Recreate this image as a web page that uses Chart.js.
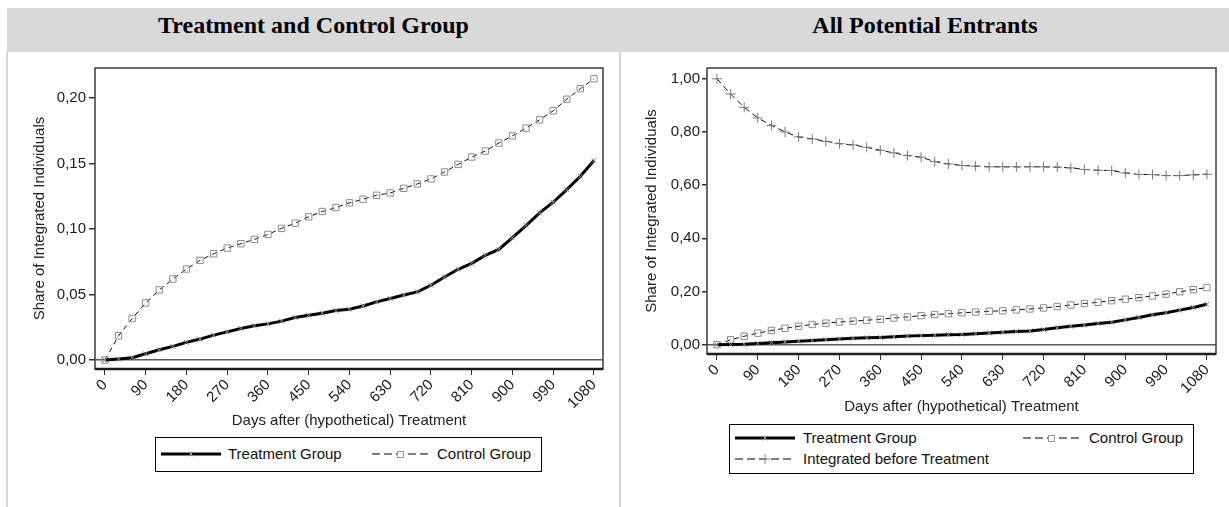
<!DOCTYPE html>
<html><head><meta charset="utf-8">
<script src="https://cdn.jsdelivr.net/npm/chart.js@4"></script>
<style>
body{margin:0;width:1229px;height:507px;background:#fff;position:relative;overflow:hidden;font-family:'Liberation Sans',Arial,sans-serif;}
#band{position:absolute;left:7px;top:8px;width:1222px;height:44px;background:#d9d9d9;}
.ttl{position:absolute;top:12px;height:32px;line-height:32px;font:bold 24px 'Liberation Serif','Times New Roman',serif;color:#000;text-align:center;}
.vl{position:absolute;background:#d4d4d4;width:2px;}
canvas{position:absolute;}
.leg{position:absolute;border:1px solid #000;background:#fff;box-sizing:border-box;}
.item{position:absolute;font-size:15px;color:#111;white-space:nowrap;line-height:18px;}
.item svg{position:absolute;}
</style>
</head><body>
<div id="band"></div>
<div class="ttl" id="t1" style="left:7px;width:613px;"></div>
<div class="ttl" id="t2" style="left:621px;width:608px;"></div>
<div class="vl" style="left:6px;top:52px;height:455px;"></div>
<div class="vl" style="left:619px;top:52px;height:455px;"></div>
<canvas id="c1" width="612" height="378" style="left:8px;top:52px;"></canvas>
<canvas id="c2" width="608" height="364" style="left:621px;top:52px;"></canvas>
<div class="leg" id="leg1" style="left:155px;top:437px;width:387px;height:35px;"></div>
<div class="leg" id="leg2" style="left:729px;top:424px;width:465px;height:50px;"></div>
<script>
const panelTitles = ['Treatment and Control Group', 'All Potential Entrants'];
const seriesNames = ['Treatment Group', 'Control Group', 'Integrated before Treatment'];
const xTitle = 'Days after (hypothetical) Treatment';
const yTitle = 'Share of Integrated Individuals';

const days = [0,30,60,90,120,150,180,210,240,270,300,330,360,390,420,450,480,510,540,570,600,630,660,690,720,750,780,810,840,870,900,930,960,990,1020,1050,1080];
const treatment = [0,0.0008,0.0018,0.0048,0.0078,0.0104,0.0135,0.0160,0.0190,0.0215,0.0241,0.0261,0.0276,0.0297,0.0325,0.0342,0.0358,0.0378,0.0388,0.0413,0.0444,0.0470,0.0497,0.0520,0.0571,0.0634,0.0693,0.0738,0.0799,0.0845,0.0934,0.1027,0.1124,0.1205,0.1301,0.1403,0.1524];
const control = [0,0.0185,0.0317,0.0436,0.0535,0.0619,0.0695,0.0761,0.0812,0.0855,0.0888,0.0921,0.0959,0.1005,0.1045,0.1094,0.1134,0.1164,0.1200,0.1228,0.1258,0.1276,0.1311,0.1345,0.1383,0.1436,0.1494,0.1550,0.1596,0.1657,0.1712,0.1771,0.1834,0.1903,0.1992,0.2072,0.2148];
const integrated = [1.00,0.9426,0.8925,0.8526,0.825,0.80,0.7814,0.7739,0.765,0.756,0.7514,0.7424,0.7311,0.7214,0.7113,0.705,0.6888,0.680,0.674,0.6714,0.669,0.669,0.669,0.669,0.669,0.6677,0.665,0.659,0.656,0.655,0.646,0.640,0.640,0.636,0.636,0.6386,0.641];

const xTicks = [0,90,180,270,360,450,540,630,720,810,900,990,1080];
const xTickLabels = ['0','90','180','270','360','450','540','630','720','810','900','990','1080'];
const leftYTicks = [0,0.05,0.10,0.15,0.20];
const leftYLabels = ['0,00','0,05','0,10','0,15','0,20'];
const rightYTicks = [0,0.2,0.4,0.6,0.8,1.0];
const rightYLabels = ['0,00','0,20','0,40','0,60','0,80','1,00'];

document.getElementById('t1').textContent = panelTitles[0];
document.getElementById('t2').textContent = panelTitles[1];

Chart.defaults.font.family = "'Liberation Sans', Arial, sans-serif";
Chart.defaults.font.size = 15;
const tickColor = '#1a1a22';
const titleColor = '#222';

const pts = arr => days.map((d, i) => ({x: d, y: arr[i]}));

function dsTreatment(){ return {label: seriesNames[0], data: pts(treatment), borderColor:'#000', borderWidth:3, pointStyle:'crossRot', pointRadius:3.5, pointBorderColor:'#8c8c8c', pointBackgroundColor:'rgba(0,0,0,0)', pointBorderWidth:1, tension:0}; }
function dsControl(){ return {label: seriesNames[1], data: pts(control), borderColor:'#111', borderWidth:1, borderDash:[5,4], pointStyle:'rect', pointRadius:4.5, pointBorderColor:'#8c8c8c', pointBackgroundColor:'rgba(0,0,0,0)', pointBorderWidth:1, tension:0}; }
function dsIntegrated(){ return {label: seriesNames[2], data: pts(integrated), borderColor:'#111', borderWidth:1, borderDash:[6,4], pointStyle:'cross', pointRadius:5, pointBorderColor:'#7a7a7a', pointBackgroundColor:'rgba(0,0,0,0)', pointBorderWidth:1, tension:0}; }

const framePlugin = {id:'frame', afterDraw(chart){
  const {ctx, chartArea:a} = chart;
  ctx.save();
  ctx.strokeStyle = '#3c3c3c'; ctx.lineWidth = 1.5;
  ctx.strokeRect(a.left, a.top, a.right - a.left, a.bottom - a.top);
  ctx.strokeStyle = '#1e1e1e'; ctx.lineWidth = 2.5;
  ctx.beginPath(); ctx.moveTo(a.left, a.bottom); ctx.lineTo(a.right, a.bottom); ctx.stroke();
  ctx.restore();
}};

function makeChart(id, datasets, yTicks, yLabels, yMin, yMax, g){
  return new Chart(document.getElementById(id), {
    type:'line',
    data:{datasets},
    options:{
      responsive:false, animation:false, devicePixelRatio:1,
      layout:{padding:{left:0, right:g.padRight, top:g.padTop, bottom:0}},
      plugins:{legend:{display:false}, tooltip:{enabled:false}},
      elements:{line:{fill:false}},
      scales:{
        x:{type:'linear', min:-22, max:1100,
          afterBuildTicks: s => { s.ticks = xTicks.map(v => ({value:v})); },
          afterFit: s => { s.height = g.xAxisH; },
          ticks:{autoSkip:false, minRotation:45, maxRotation:45, padding:1, color:tickColor,
            callback: v => { const i = xTicks.indexOf(v); return i >= 0 ? xTickLabels[i] : ''; }},
          grid:{drawOnChartArea:false, tickLength:6, tickColor:'#333', lineWidth:1},
          border:{display:false},
          title:{display:true, text:xTitle, color:titleColor, padding:{top:0, bottom:0}}
        },
        y:{min:yMin, max:yMax,
          afterBuildTicks: s => { s.ticks = yTicks.map(v => ({value:v})); },
          afterFit: s => { s.width = g.axisW; },
          ticks:{padding:g.yTickPad, color:tickColor,
            callback: v => { const i = yTicks.indexOf(v); return i >= 0 ? yLabels[i] : ''; }},
          grid:{color: c => (c.tick && c.tick.value === 0) ? '#5a5a5a' : 'rgba(0,0,0,0)', lineWidth:1.5, tickLength:g.yTickLen, tickColor:'#333'},
          border:{display:false},
          title:{display:true, text:yTitle, color:titleColor, padding:{top:g.yTitlePad, bottom:0}}
        }
      }
    },
    plugins:[framePlugin]
  });
}

makeChart('c1', [dsTreatment(), dsControl()], leftYTicks, leftYLabels, -0.00685, 0.2230,
  {axisW:87, padRight:17, padTop:16, xAxisH:61, yTitlePad:23, yTickLen:6, yTickPad:3});
makeChart('c2', [dsTreatment(), dsControl(), dsIntegrated()], rightYTicks, rightYLabels, -0.0349, 1.0406,
  {axisW:86, padRight:13, padTop:16, xAxisH:62, yTitlePad:22, yTickLen:5, yTickPad:2});

// legends
function sample(kind){
  if (kind === 0) return '<svg width="60" height="10" viewBox="0 0 60 10"><line x1="0" y1="5" x2="60" y2="5" stroke="#000" stroke-width="3"/><path d="M27.5,2.5 L32.5,7.5 M32.5,2.5 L27.5,7.5" stroke="#999" stroke-width="1"/></svg>';
  if (kind === 1) return '<svg width="58" height="10" viewBox="0 0 58 10"><line x1="0" y1="5" x2="58" y2="5" stroke="#000" stroke-width="1" stroke-dasharray="8,4"/><rect x="25.5" y="2.5" width="6" height="6" fill="#fff" stroke="#999"/></svg>';
  return '<svg width="60" height="12" viewBox="0 0 60 12"><line x1="0" y1="6" x2="60" y2="6" stroke="#000" stroke-width="1" stroke-dasharray="8,4"/><path d="M30,1 L30,11 M25,6 L35,6" stroke="#888" stroke-width="1"/></svg>';
}
function addItem(boxId, kind, sx, tx, cy){
  const box = document.getElementById(boxId);
  const s = document.createElement('div');
  s.className = 'item'; s.style.left = sx + 'px'; s.style.top = (cy - (kind===2?6:5)) + 'px';
  s.innerHTML = sample(kind);
  box.appendChild(s);
  const t = document.createElement('div');
  t.className = 'item'; t.style.left = tx + 'px'; t.style.top = (cy - 9) + 'px';
  t.textContent = seriesNames[kind];
  box.appendChild(t);
}
// left legend (box at 155,437)
addItem('leg1', 0, 5, 72, 16);
addItem('leg1', 1, 216, 281, 16);
// right legend (box at 729,424)
addItem('leg2', 0, 5, 73, 13);
addItem('leg2', 1, 293, 359, 13);
addItem('leg2', 2, 5, 73, 34);
</script>
</body></html>
